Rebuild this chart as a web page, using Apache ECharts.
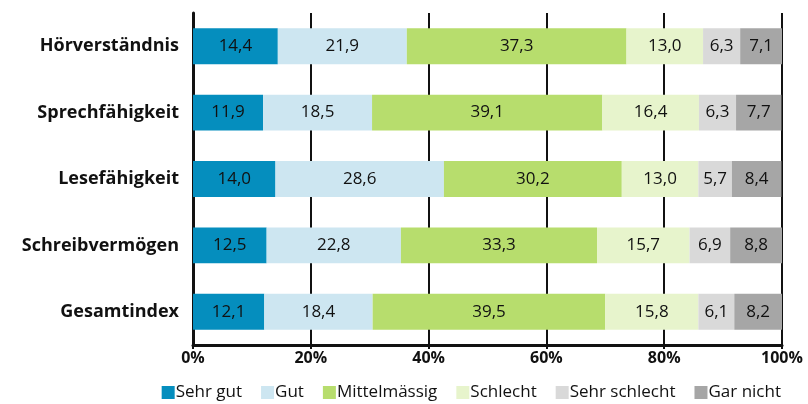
<!DOCTYPE html>
<html>
<head>
  <meta charset="utf-8">
</head>
<body style="margin: 0">
  <div id="container" style="width: 808px; height: 404px"></div>
  <script src="https://cdn.jsdelivr.net/npm/echarts@6/dist/echarts.min.js"></script>
  <script>
    var categories = ['Hörverständnis', 'Sprechfähigkeit', 'Lesefähigkeit', 'Schreibvermögen', 'Gesamtindex'];
    var seriesNames = ['Sehr gut', 'Gut', 'Mittelmässig', 'Schlecht', 'Sehr schlecht', 'Gar nicht'];
    var sehrGut = [14.4, 11.9, 14.0, 12.5, 12.1];
    var gut = [21.9, 18.5, 28.6, 22.8, 18.4];
    var mittel = [37.3, 39.1, 30.2, 33.3, 39.5];
    var schlecht = [13.0, 16.4, 13.0, 15.7, 15.8];
    var sehrSchlecht = [6.3, 6.3, 5.7, 6.9, 6.1];
    var garNicht = [7.1, 7.7, 8.4, 8.8, 8.2];
    var colors = ['#058ebe', '#cde6f1', '#b7dd6d', '#e7f4cc', '#d9d9d9', '#a6a6a6'];

    var font = '"Open Sans", sans-serif';
    var allData = [sehrGut, gut, mittel, schlecht, sehrSchlecht, garNicht];

    var chart = echarts.init(document.getElementById('container'), null, { renderer: 'canvas' });

    var series = allData.map(function (d, i) {
      return {
        name: seriesNames[i],
        type: 'bar',
        stack: 'total',
        data: d,
        barWidth: '54%',
        itemStyle: { color: colors[i] },
        label: {
          show: true,
          position: 'inside',
          color: '#111',
          fontFamily: font,
          fontSize: 17,
          formatter: function (p) { return p.value.toFixed(1).replace('.', ','); }
        }
      };
    });

    chart.setOption({
      animation: false,
      color: colors,
      grid: { left: 193, right: 26, top: 13, bottom: 59 },
      xAxis: {
        type: 'value',
        min: 0,
        max: 100,
        interval: 20,
        axisLine: { show: true, lineStyle: { color: '#111', width: 3 } },
        axisTick: { show: true, length: 4, lineStyle: { color: '#111', width: 2 } },
        splitLine: { show: true, lineStyle: { color: '#111', width: 2 } },
        axisLabel: {
          formatter: '{value}%',
          color: '#111',
          fontFamily: font,
          fontWeight: 'bold',
          fontSize: 16,
          margin: 5
        }
      },
      yAxis: {
        type: 'category',
        inverse: true,
        data: categories,
        axisLine: { show: true, lineStyle: { color: '#111', width: 3 } },
        axisTick: { show: false },
        axisLabel: {
          color: '#111',
          fontFamily: font,
          fontWeight: 'bold',
          fontSize: 18,
          margin: 14
        }
      },
      legend: {
        bottom: -2,
        right: 22,
        itemWidth: 13,
        itemHeight: 13,
        itemGap: 19,
        icon: 'rect',
        data: seriesNames,
        textStyle: { color: '#111', fontFamily: font, fontSize: 17, padding: [0, 0, 0, -4] }
      },
      series: series
    });
  </script>
</body>
</html>
